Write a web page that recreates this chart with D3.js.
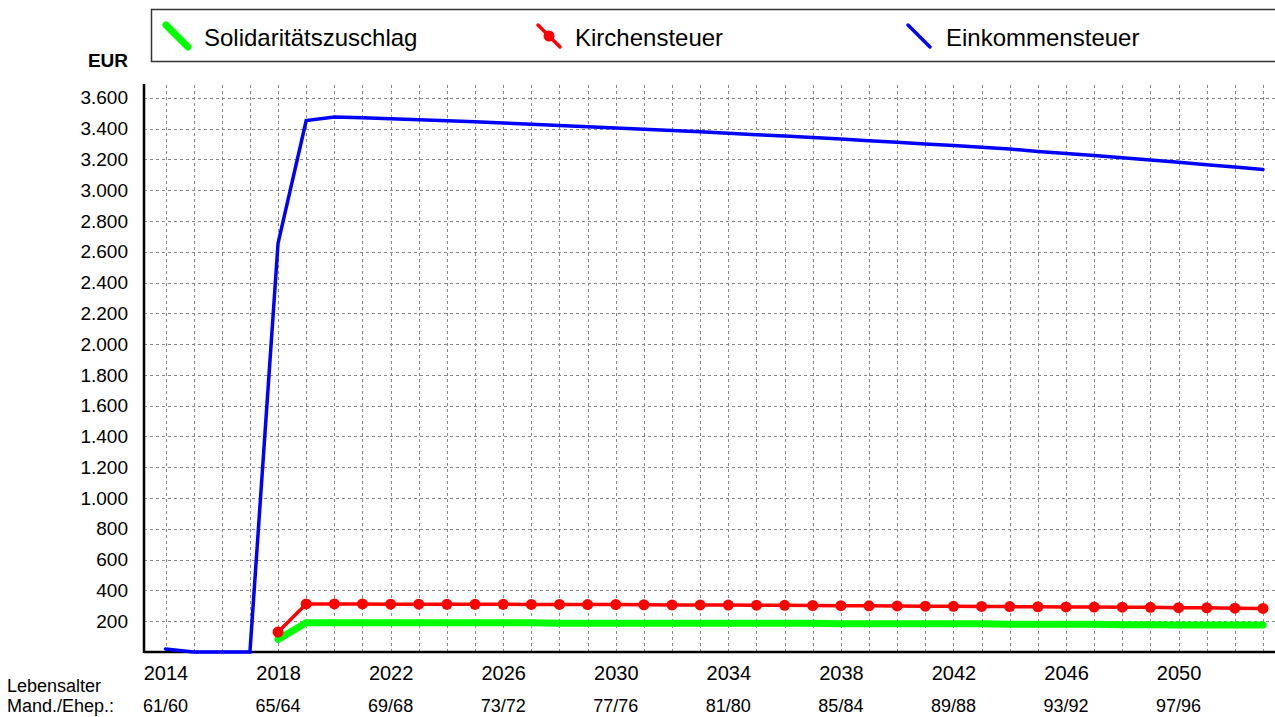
<!DOCTYPE html>
<html lang="de">

<head>
    <meta charset="UTF-8">
    <title>Steuern</title>
    <style>
        body {
            margin: 0;
            background: #fff;
        }

        svg text {
            font-family: "Liberation Sans", Arial, sans-serif;
            fill: #000;
        }

        .grid line {
            stroke: #888;
            stroke-dasharray: 3, 3;
            shape-rendering: crispEdges;
        }

        .axis path,
        .axis line {
            stroke: none;
        }
    </style>
</head>

<body>
    <svg class="chart" width="1275" height="717"></svg>
    <script src="https://d3js.org/d3.v7.min.js"></script>
    <script>
        // data
        const years = d3.range(2014, 2054);
        const einkommensteuer = [20, 0, 0, 0, 2656, 3452, 3476, 3470, 3465, 3458,
            3451, 3445, 3437, 3428, 3420, 3412, 3404, 3396, 3388, 3379,
            3370, 3361, 3352, 3342, 3332, 3322, 3312, 3301, 3290, 3279,
            3268, 3252, 3238, 3225, 3211, 3196, 3181, 3166, 3151, 3135];
        // Kirchensteuer / Soli start in 2018
        const kirchensteuer = [130, 312, 312, 312, 311, 311, 310, 310, 310, 309,
            309, 308, 308, 307, 306, 306, 305, 304, 303, 302,
            301, 300, 299, 298, 297, 296, 295, 294, 293, 292,
            291, 290, 288, 287, 285, 283];
        const soli = [82, 190, 190, 190, 190, 190, 190, 190, 190, 190,
            187, 187, 187, 187, 187, 187, 187, 187, 187, 187,
            184, 184, 184, 184, 184, 184, 180, 180, 180, 180,
            177, 177, 176, 176, 175, 175];
        const yTicks = d3.range(200, 3601, 200);
        const xTickYears = d3.range(2014, 2051, 4);
        const ageLabels = ["61/60", "65/64", "69/68", "73/72", "77/76", "81/80", "85/84", "89/88", "93/92", "97/96"];
        const legendItems = [
            { name: "Solidaritätszuschlag", color: "#00ff00" },
            { name: "Kirchensteuer", color: "#ff0000" },
            { name: "Einkommensteuer", color: "#0000ff" }
        ];

        let plotLeft = 144, plotRight = 1275, plotTop = 84, plotBottom = 652;

        let x = d3.scaleLinear()
            .domain([2014, 2053])
            .range([165.5, 1263]);

        let y = d3.scaleLinear()
            .domain([0, 3690])
            .range([plotBottom, plotTop]);

        let svg = d3.select(".chart");

        // grid
        let grid = svg.append("g").attr("class", "grid");
        grid.selectAll(".hg")
            .data(yTicks)
            .enter().append("line")
            .attr("x1", plotLeft).attr("x2", plotRight)
            .attr("y1", d => Math.round(y(d)) + 0.5)
            .attr("y2", d => Math.round(y(d)) + 0.5);
        grid.selectAll(".vg")
            .data(years)
            .enter().append("line")
            .attr("x1", d => Math.round(x(d)) + 0.5)
            .attr("x2", d => Math.round(x(d)) + 0.5)
            .attr("y1", plotTop + 1).attr("y2", plotBottom);

        // y axis labels
        let yAxis = d3.axisLeft(y)
            .tickValues(yTicks)
            .tickSize(0)
            .tickPadding(16)
            .tickFormat(d => d3.format(",")(d).replace(",", "."));
        svg.append("g")
            .attr("class", "axis")
            .attr("transform", `translate(${plotLeft},0)`)
            .call(yAxis)
            .call(g => g.selectAll("text")
                .style("font-size", "19px")
                .style("font-family", "'Liberation Sans', Arial, sans-serif"));

        // x axis labels
        let xAxis = d3.axisBottom(x)
            .tickValues(xTickYears)
            .tickSize(0)
            .tickPadding(14)
            .tickFormat(d3.format("d"));
        svg.append("g")
            .attr("class", "axis")
            .attr("transform", `translate(0,${plotBottom})`)
            .call(xAxis)
            .call(g => g.selectAll("text")
                .style("font-size", "20px")
                .style("font-family", "'Liberation Sans', Arial, sans-serif"));

        svg.selectAll(".age")
            .data(xTickYears)
            .enter().append("text")
            .attr("x", d => x(d))
            .attr("y", 712)
            .attr("text-anchor", "middle")
            .style("font-size", "18px")
            .text((d, i) => ageLabels[i]);

        svg.append("text").attr("x", 7).attr("y", 692)
            .style("font-size", "18px").text("Lebensalter");
        svg.append("text").attr("x", 7).attr("y", 712)
            .style("font-size", "18px").text("Mand./Ehep.:");

        svg.append("text")
            .attr("x", 128).attr("y", 67)
            .attr("text-anchor", "end")
            .style("font-size", "19px")
            .style("font-weight", "bold")
            .text("EUR");

        // axis lines
        svg.append("line")
            .attr("x1", plotLeft).attr("x2", plotLeft)
            .attr("y1", plotTop).attr("y2", plotBottom + 1)
            .attr("stroke", "#000").attr("stroke-width", 2.5);
        svg.append("line")
            .attr("x1", plotLeft).attr("x2", plotRight)
            .attr("y1", plotBottom).attr("y2", plotBottom)
            .attr("stroke", "#000").attr("stroke-width", 2.5);

        // lines
        let line = d3.line()
            .x(d => x(d[0]))
            .y(d => y(d[1]));

        let soliData = soli.map((v, i) => [2018 + i, v]);
        let kirchData = kirchensteuer.map((v, i) => [2018 + i, v]);
        let estData = einkommensteuer.map((v, i) => [years[i], v]);

        svg.append("path")
            .datum(soliData)
            .attr("d", line)
            .attr("fill", "none")
            .attr("stroke", "#00ff00")
            .attr("stroke-width", 7)
            .attr("stroke-linecap", "round")
            .attr("stroke-linejoin", "round");

        svg.append("path")
            .datum(kirchData)
            .attr("d", line)
            .attr("fill", "none")
            .attr("stroke", "#ff0000")
            .attr("stroke-width", 3.5);

        svg.selectAll(".dot")
            .data(kirchData)
            .enter().append("circle")
            .attr("cx", d => x(d[0]))
            .attr("cy", d => y(d[1]))
            .attr("r", 5.5)
            .attr("fill", "#ff0000");

        svg.append("path")
            .datum(estData)
            .attr("d", line)
            .attr("fill", "none")
            .attr("stroke", "#0000ff")
            .attr("stroke-width", 3.5)
            .attr("stroke-linecap", "round");

        // legend
        svg.append("rect")
            .attr("x", 151.5).attr("y", 9.5)
            .attr("width", 1200).attr("height", 52)
            .attr("fill", "#fff")
            .attr("stroke", "#333").attr("stroke-width", 1.5);

        let lx = [166, 538, 908];
        let tx = [204, 575, 946];
        legendItems.forEach((item, i) => {
            svg.append("line")
                .attr("x1", lx[i]).attr("y1", 25)
                .attr("x2", lx[i] + 22).attr("y2", 47)
                .attr("stroke", item.color)
                .attr("stroke-width", i == 0 ? 7 : 3.5)
                .attr("stroke-linecap", "round");
            if (i == 1) {
                svg.append("circle")
                    .attr("cx", lx[i] + 11).attr("cy", 36)
                    .attr("r", 5.5).attr("fill", item.color);
            }
            svg.append("text")
                .attr("x", tx[i]).attr("y", 46)
                .style("font-size", "24px")
                .text(item.name);
        });
    </script>
</body>

</html>
